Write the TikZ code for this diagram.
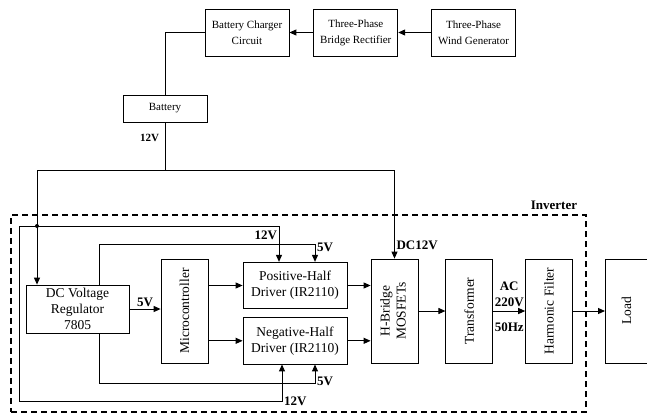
\documentclass[tikz,border=0pt]{standalone}
\usepackage{fontspec}
\setmainfont{Liberation Serif}
\usetikzlibrary{arrows.meta, positioning}

\begin{document}
\begin{tikzpicture}[
    x=1pt, y=-1pt,
    block/.style={
        rectangle, draw=black, fill=white, line width=0.8pt, align=center,
        inner sep=1pt, font=\fontsize{13.5}{16}\selectfont
    },
    topblock/.style={
        block, minimum width=84pt, minimum height=47pt, font=\fontsize{11}{16}\selectfont
    },
    tallblock/.style={
        block, minimum width=47pt, minimum height=104pt
    },
    halfblock/.style={
        block, minimum width=104pt, minimum height=46.5pt
    },
    wire/.style={
        line width=1pt, draw=black
    },
    flow/.style={
        wire, -{Triangle[length=7pt, width=6pt]}
    },
    volt/.style={
        font=\fontsize{13}{16}\selectfont\bfseries, inner sep=1.5pt
    },
    frame/.style={
        rectangle, draw=black, line width=1.6pt, dash pattern=on 6pt off 4pt,
        minimum width=575pt, minimum height=197pt
    }
]

\useasboundingbox (0,0) rectangle (647,416);

% Row 1 (Top): Generator -> Rectifier -> Charger, Battery below
\node[topblock] (charger) at (247,32.5) {Battery Charger\\Circuit};
\node[topblock, right=24pt of charger] (rectifier) {Three-Phase\\Bridge Rectifier};
\node[topblock, right=33pt of rectifier] (generator) {Three-Phase\\Wind Generator};
\node[block, minimum width=84pt, minimum height=27pt, font=\fontsize{11}{16}\selectfont] (battery) at (165,108.5) {Battery};

% Row 2 (Inverter): dashed frame and its blocks
\node[frame, label={[volt, anchor=south east, xshift=-8pt, yshift=3pt]north east:Inverter}] (inverter) at (298.5,313.5) {};
\node[tallblock] (micro) at (184.5,311) {\rotatebox{90}{Microcontroller}};
\node[block, minimum width=103pt, minimum height=48pt] (regulator) at (77.5,309) {DC Voltage\\Regulator\\7805};
\node[halfblock] (poshalf) at (295,285.5) {Positive-Half\\Driver (IR2110)};
\node[halfblock, below=8pt of poshalf] (neghalf) {Negative-Half\\Driver (IR2110)};
\node[tallblock] (hbridge) at (394.5,311) {\rotatebox{90}{\begin{tabular}{@{}c@{}}H-Bridge\\MOSFETs\end{tabular}}};
\node[tallblock, right=27pt of hbridge] (trans) {\rotatebox{90}{Transformer}};
\node[tallblock, right=32pt of trans] (filter) {\rotatebox{90}{Harmonic Filter}};
\node[tallblock, minimum width=42pt, right=32pt of filter] (load) {\rotatebox{90}{Load}};

% Bus points
\coordinate (busL) at (37,170);
\coordinate (junc) at (37,226);
\coordinate (busR) at (busL -| hbridge.north);
\coordinate (loopL) at (19,401);
\coordinate (fiveTop) at (99,244);
\coordinate (fiveBot) at (99,383);

% Charging chain
\draw[flow] (generator) -- (rectifier);
\draw[flow] (rectifier) -- (charger);
\draw[wire] (charger.west) -| (battery.north);
\draw[wire] (battery.south) -- node[volt, left=4pt, pos=0.33, font=\fontsize{11}{13}\selectfont\bfseries]{12V} (battery.south |- busL);

% 12V supply
\draw[wire] (busL) -- (busR);
\draw[flow] (busR) -- node[volt, right, pos=0.85]{DC12V} (hbridge.north);
\draw[flow] (busL) -- (busL |- regulator.north);
\fill (junc) circle (2pt);
\draw[flow] (junc) -| node[volt, below left, pos=0.5, yshift=-3pt]{12V} ([xshift=-16pt]poshalf.north);
\draw[flow] (junc) -| (loopL) -| node[volt, right, pos=0.5]{12V} ([xshift=-13pt]neghalf.south);

% 5V supply
\draw[flow] (regulator.north -| fiveTop) -- (fiveTop) -| node[volt, right, pos=0.5, yshift=-3pt]{5V} ([xshift=20pt]poshalf.north);
\draw[flow] (regulator.south -| fiveBot) -- (fiveBot) -| node[volt, right, pos=0.5, yshift=2pt]{5V} ([xshift=20pt]neghalf.south);

% Signal and power chain
\draw[flow] (regulator.east) -- node[volt, above]{5V} (regulator.east -| micro.west);
\draw[flow] (micro.east |- poshalf) -- (poshalf.west);
\draw[flow] (micro.east |- neghalf) -- (neghalf.west);
\draw[flow] (poshalf.east) -- (poshalf.east -| hbridge.west);
\draw[flow] (neghalf.east) -- (neghalf.east -| hbridge.west);
\draw[flow] (hbridge) -- (trans);
\draw[flow] (trans) -- node[volt, above, align=center, yshift=2pt]{AC\\220V} node[volt, below=10pt]{50Hz} (filter);
\draw[flow] (filter) -- (load);

\end{tikzpicture}
\end{document}
